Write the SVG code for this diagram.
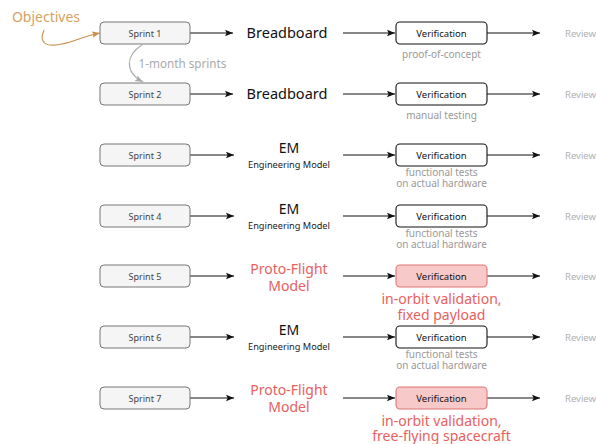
<svg xmlns="http://www.w3.org/2000/svg" width="596" height="444" viewBox="0 0 596 444">
<defs>
<marker id="ah" viewBox="0 0 10 10" refX="10" refY="5" markerWidth="8" markerHeight="8" markerUnits="userSpaceOnUse" orient="auto"><path d="M0,1 L10,5 L0,9 L2,5 Z" fill="#111"/></marker>
<marker id="ahg" viewBox="0 0 10 10" refX="10" refY="5" markerWidth="8" markerHeight="8" markerUnits="userSpaceOnUse" orient="auto"><path d="M0,1 L10,5 L0,9 L2,5 Z" fill="#aaa"/></marker>
<marker id="aho" viewBox="0 0 10 10" refX="10" refY="5" markerWidth="8" markerHeight="8" markerUnits="userSpaceOnUse" orient="auto"><path d="M0,1 L10,5 L0,9 L2,5 Z" fill="#c98f4c"/></marker>
<style>
text{font-family:"Noto Sans","Open Sans",sans-serif;text-anchor:middle}
.sp rect{fill:#f5f5f5;stroke:#777;stroke-width:1}
.sp text{font-size:9px;fill:#444}
.vf rect{fill:#fff;stroke:#111;stroke-width:1.1}
.vf.red rect{fill:#f7c9c9;stroke:#e07575}
.vf text{font-size:9.5px;fill:#111}
.big{font-size:14.5px;fill:#111}
.em{font-size:14px;fill:#111}
.small{font-size:9.2px;fill:#222}
.pf{font-size:14px;fill:#e8605e}
.note{font-size:10px;fill:#999}
.rnote{font-size:14px;fill:#e8605e}
.rv{font-size:9.5px;fill:#b0b0b0;text-anchor:start}
.conn path{fill:none;stroke:#111;stroke-width:1.1;marker-end:url(#ah)}
</style>
</defs>

<text x="46" y="22" style="font-size:14px;fill:#d6a15e">Objectives</text>
<text x="182.5" y="68" style="font-size:11.7px;fill:#aaa">1-month sprints</text>

<g class="conn">
<path d="M44,30 C38,44 46,49 70,42 C82,38 90,35 100,33" style="stroke:#c98f4c;marker-end:url(#aho)"/>
<path d="M142,45 C126,55 124,72 143,82" style="stroke:#aaa;marker-end:url(#ahg)"/>
<path d="M190,33 H233"/><path d="M343,33 H395"/><path d="M487,33 H540"/>
<path d="M190,94 H233"/><path d="M343,94 H395"/><path d="M487,94 H540"/>
<path d="M190,155 H234"/><path d="M343,155 H395"/><path d="M487,155 H540"/>
<path d="M190,216 H234"/><path d="M343,216 H395"/><path d="M487,216 H540"/>
<path d="M190,276 H234"/><path d="M343,276 H395"/><path d="M487,276 H540"/>
<path d="M190,337 H234"/><path d="M343,337 H395"/><path d="M487,337 H540"/>
<path d="M190,398 H234"/><path d="M343,398 H395"/><path d="M487,398 H540"/>
</g>

<g id="sprint1" class="sp"><rect x="100" y="22" width="90" height="22" rx="4"/><text x="145" y="36.5">Sprint 1</text></g>
<g id="sprint2" class="sp"><rect x="100" y="83" width="90" height="22" rx="4"/><text x="145" y="97.5">Sprint 2</text></g>
<g id="sprint3" class="sp"><rect x="100" y="144" width="90" height="22" rx="4"/><text x="145" y="158.5">Sprint 3</text></g>
<g id="sprint4" class="sp"><rect x="100" y="205" width="90" height="22" rx="4"/><text x="145" y="219.5">Sprint 4</text></g>
<g id="sprint5" class="sp"><rect x="100" y="265" width="90" height="22" rx="4"/><text x="145" y="279.5">Sprint 5</text></g>
<g id="sprint6" class="sp"><rect x="100" y="326" width="90" height="22" rx="4"/><text x="145" y="340.5">Sprint 6</text></g>
<g id="sprint7" class="sp"><rect x="100" y="387" width="90" height="22" rx="4"/><text x="145" y="401.5">Sprint 7</text></g>

<g id="model1"><text x="287" y="38" class="big">Breadboard</text></g>
<g id="model2"><text x="287" y="99" class="big">Breadboard</text></g>
<g id="model3"><text x="289" y="153" class="em">EM</text><text x="289" y="168" class="small">Engineering Model</text></g>
<g id="model4"><text x="289" y="214" class="em">EM</text><text x="289" y="229" class="small">Engineering Model</text></g>
<g id="model5"><text x="289" y="274" class="pf">Proto-Flight</text><text x="289" y="290.5" class="pf">Model</text></g>
<g id="model6"><text x="289" y="335" class="em">EM</text><text x="289" y="350" class="small">Engineering Model</text></g>
<g id="model7"><text x="289" y="395" class="pf">Proto-Flight</text><text x="289" y="411.5" class="pf">Model</text></g>

<g id="verif1" class="vf"><rect x="396" y="22" width="91" height="22" rx="4"/><text x="441.5" y="36.5">Verification</text></g>
<g id="verif2" class="vf"><rect x="396" y="83" width="91" height="22" rx="4"/><text x="441.5" y="97.5">Verification</text></g>
<g id="verif3" class="vf"><rect x="396" y="144" width="91" height="22" rx="4"/><text x="441.5" y="158.5">Verification</text></g>
<g id="verif4" class="vf"><rect x="396" y="205" width="91" height="22" rx="4"/><text x="441.5" y="219.5">Verification</text></g>
<g id="verif5" class="vf red"><rect x="396" y="265" width="91" height="22" rx="4"/><text x="441.5" y="279.5">Verification</text></g>
<g id="verif6" class="vf"><rect x="396" y="326" width="91" height="22" rx="4"/><text x="441.5" y="340.5">Verification</text></g>
<g id="verif7" class="vf red"><rect x="396" y="387" width="91" height="22" rx="4"/><text x="441.5" y="401.5">Verification</text></g>

<g id="notes">
<text x="441.5" y="58" class="note">proof-of-concept</text>
<text x="441.5" y="119" class="note">manual testing</text>
<text x="441.5" y="176" class="note">functional tests</text>
<text x="441.5" y="187" class="note">on actual hardware</text>
<text x="441.5" y="237" class="note">functional tests</text>
<text x="441.5" y="248" class="note">on actual hardware</text>
<text x="441.5" y="304" class="rnote">in-orbit validation,</text>
<text x="441.5" y="319.5" class="rnote">fixed payload</text>
<text x="441.5" y="358" class="note">functional tests</text>
<text x="441.5" y="369" class="note">on actual hardware</text>
<text x="441.5" y="425.5" class="rnote">in-orbit validation,</text>
<text x="441.5" y="441" class="rnote">free-flying spacecraft</text>
</g>

<g id="reviews">
<text x="565" y="36.5" class="rv">Review</text>
<text x="565" y="97.5" class="rv">Review</text>
<text x="565" y="158.5" class="rv">Review</text>
<text x="565" y="219.5" class="rv">Review</text>
<text x="565" y="279.5" class="rv">Review</text>
<text x="565" y="340.5" class="rv">Review</text>
<text x="565" y="401.5" class="rv">Review</text>
</g>
</svg>
